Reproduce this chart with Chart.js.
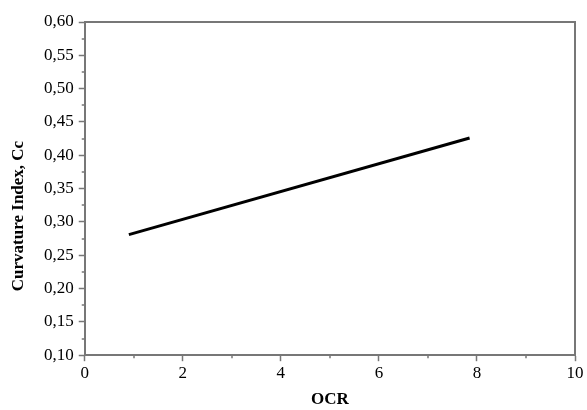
<!DOCTYPE html>
<html>
<head>
<meta charset="utf-8">
<script src="https://cdn.jsdelivr.net/npm/chart.js@4.4.0/dist/chart.umd.min.js"></script>
<style>
  html, body { margin: 0; padding: 0; background: #fff; }
  #wrap { width: 587px; height: 410px; position: relative; }
</style>
</head>
<body>
<div id="wrap"><canvas id="myChart"></canvas></div>
<script>
// data
const ocrValues = [0.9, 7.85];
const ccValues = [0.281, 0.426];
const xTicks = [0, 2, 4, 6, 8, 10];
const yTicks = [0.10, 0.15, 0.20, 0.25, 0.30, 0.35, 0.40, 0.45, 0.50, 0.55, 0.60];
const xMinor = [1, 3, 5, 7, 9];
const yMinor = [0.125, 0.175, 0.225, 0.275, 0.325, 0.375, 0.425, 0.475, 0.525, 0.575];
const yTitle = 'Curvature Index, Cc';

const axisColor = '#777777';
const serif = "'Liberation Serif', 'DejaVu Serif', serif";

const points = ocrValues.map((x, i) => ({ x: x, y: ccValues[i] }));

// frame on top/right, minor ticks, y title (sits a bit low like the original)
const frameAndMinor = {
  id: 'frameAndMinor',
  afterDraw: (chart) => {
    const { ctx, chartArea, scales } = chart;
    ctx.save();
    ctx.strokeStyle = axisColor;
    ctx.lineWidth = 2;
    ctx.beginPath();
    ctx.moveTo(chartArea.left, chartArea.top);
    ctx.lineTo(chartArea.right, chartArea.top);
    ctx.lineTo(chartArea.right, chartArea.bottom);
    ctx.stroke();

    ctx.lineWidth = 1.5;
    ctx.beginPath();
    xMinor.forEach(v => {
      const px = Math.round(scales.x.getPixelForValue(v));
      ctx.moveTo(px, chartArea.bottom);
      ctx.lineTo(px, chartArea.bottom + 3);
    });
    yMinor.forEach(v => {
      const py = Math.round(scales.y.getPixelForValue(v));
      ctx.moveTo(chartArea.left, py);
      ctx.lineTo(chartArea.left - 3, py);
    });
    ctx.stroke();

    ctx.translate(19, 216);
    ctx.rotate(-Math.PI / 2);
    ctx.fillStyle = '#000';
    ctx.font = 'bold 17px ' + serif;
    ctx.textAlign = 'center';
    ctx.textBaseline = 'middle';
    ctx.fillText(yTitle, 0, 0);
    ctx.restore();
  }
};

const config = {
  type: 'scatter',
  data: {
    datasets: [{
      label: 'Cc',
      data: points,
      showLine: true,
      borderColor: '#000000',
      borderWidth: 3,
      pointRadius: 0,
      fill: false
    }]
  },
  options: {
    responsive: false,
    animation: false,
    layout: { padding: { top: 22, right: 12, left: 39, bottom: 0 } },
    scales: {
      x: {
        type: 'linear',
        min: 0,
        max: 10,
        afterBuildTicks: (axis) => { axis.ticks = xTicks.map(v => ({ value: v })); },
        ticks: {
          color: '#000',
          font: { family: serif, size: 17 },
          padding: 2,
          maxRotation: 0,
          callback: (value) => String(value)
        },
        grid: {
          drawOnChartArea: false,
          tickLength: 6,
          tickColor: axisColor,
          tickWidth: 1.5
        },
        border: { color: axisColor, width: 2 },
        title: {
          display: true,
          text: 'OCR',
          color: '#000',
          font: { family: serif, size: 17, weight: 'bold' },
          padding: { top: 4, bottom: 0 }
        }
      },
      y: {
        type: 'linear',
        min: 0.10,
        max: 0.60,
        afterBuildTicks: (axis) => { axis.ticks = yTicks.map(v => ({ value: v })); },
        ticks: {
          color: '#000',
          font: { family: serif, size: 17 },
          padding: 5,
          callback: (value) => value.toFixed(2).replace('.', ',')
        },
        grid: {
          drawOnChartArea: false,
          tickLength: 6,
          tickColor: axisColor,
          tickWidth: 1.5
        },
        border: { color: axisColor, width: 2 }
      }
    },
    plugins: {
      legend: { display: false },
      title: { display: false },
      tooltip: { enabled: false }
    }
  },
  plugins: [frameAndMinor]
};

const canvasEl = document.getElementById('myChart');
canvasEl.width = 587;
canvasEl.height = 410;
const myChart = new Chart(canvasEl, config);
</script>
</body>
</html>
